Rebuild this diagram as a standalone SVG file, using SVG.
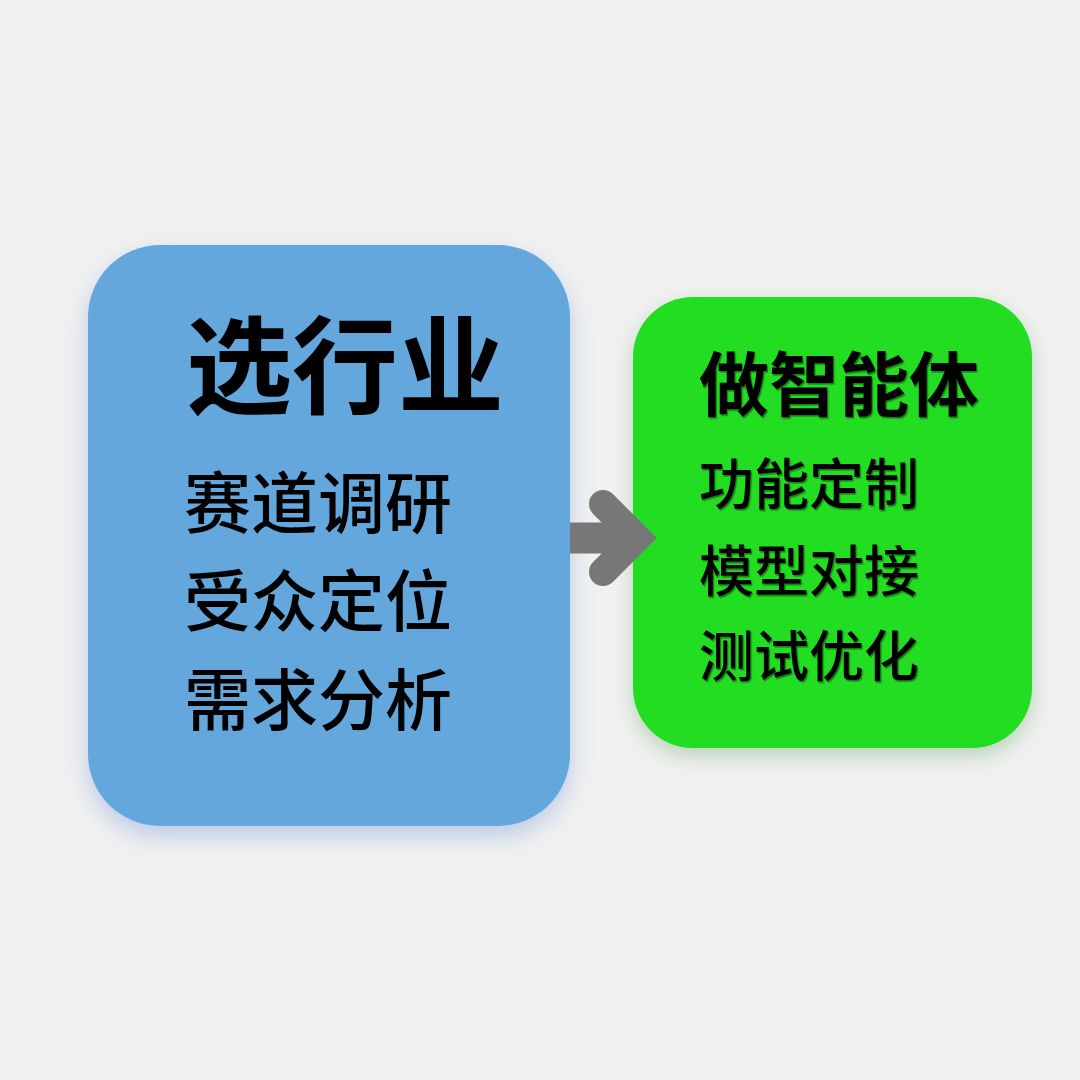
<svg xmlns="http://www.w3.org/2000/svg" width="1080" height="1080" viewBox="0 0 1080 1080">
<defs>
<filter id="shBlue" x="-20%" y="-20%" width="140%" height="140%">
<feDropShadow dx="0" dy="10" stdDeviation="12" flood-color="#5a7fd0" flood-opacity="0.35"/>
</filter>
<filter id="shGreen" x="-20%" y="-20%" width="140%" height="140%">
<feDropShadow dx="0" dy="8" stdDeviation="10" flood-color="#3a8a3a" flood-opacity="0.3"/>
</filter>
<filter id="txtG" x="-5%" y="-10%" width="110%" height="130%">
<feDropShadow dx="1.2" dy="1.6" stdDeviation="0.5" flood-color="#0a6a0a" flood-opacity="0.8"/>
</filter>
</defs>
<style>
.t{font-family:"Noto Sans CJK SC","Noto Sans",sans-serif;fill:#000;}
.title{font-weight:700;}
.item{font-weight:500;}
</style>
<rect width="1080" height="1080" fill="#f1f1f1"/>
<g id="node-select-industry">
<rect x="88" y="245" width="482" height="581" rx="72" fill="#64a7dc" filter="url(#shBlue)"/>
<text class="t title" x="186" y="405" font-size="106">选行业</text>
<text class="t item" x="184" y="528" font-size="67">赛道调研</text>
<text class="t item" x="184" y="626" font-size="67">受众定位</text>
<text class="t item" x="184" y="725" font-size="67">需求分析</text>
</g>
<g id="node-build-agent">
<rect x="633" y="297" width="399" height="451" rx="60" fill="#22dd22" filter="url(#shGreen)"/>
<g filter="url(#txtG)">
<text class="t title" x="699" y="411" font-size="70">做智能体</text>
<text class="t item" x="699" y="504" font-size="55">功能定制</text>
<text class="t item" x="699" y="591" font-size="55">模型对接</text>
<text class="t item" x="699" y="676" font-size="55">测试优化</text>
</g>
</g>
<g id="connectors">
<path d="M570 538 H628" stroke="#777" stroke-width="31" fill="none"/>
<path d="M603 504 L637 538 L603 572" stroke="#777" stroke-width="28" fill="none" stroke-linecap="round" stroke-linejoin="miter"/>
</g>
</svg>
